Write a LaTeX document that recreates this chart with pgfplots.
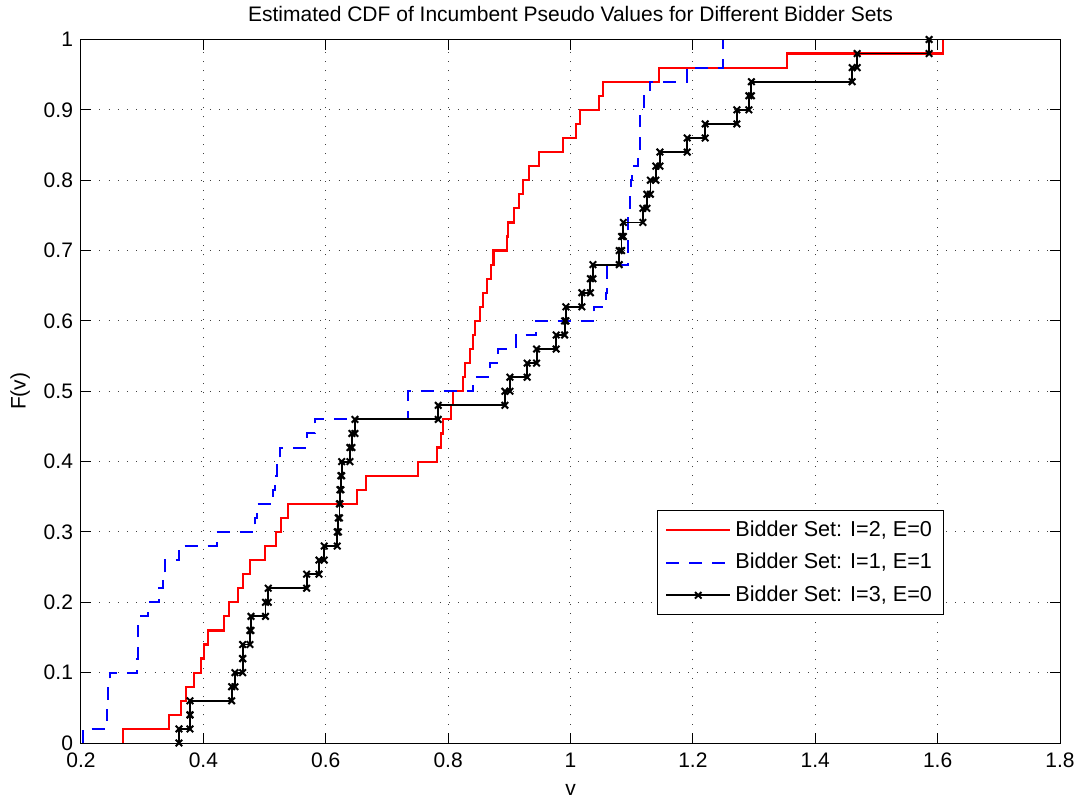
\documentclass[border=0pt]{standalone}
\usepackage{fontspec}
\setmainfont{Liberation Sans}
\usepackage{pgfplots}
\pgfplotsset{compat=1.18}
\begin{document}
\begin{tikzpicture}
\path[use as bounding box] (-40.5pt,-28pt) rectangle (499.5pt,371.5pt);
\begin{axis}[
  at={(0pt,0pt)}, anchor=south west,
  scale only axis, width=489.5pt, height=351.75pt,
  xmin=0.2, xmax=1.8, ymin=0, ymax=1,
  xtick={0.2,0.4,0.6,0.8,1,1.2,1.4,1.6,1.8},
  xticklabels={0.2,0.4,0.6,0.8,1,1.2,1.4,1.6,1.8},
  ytick={0,0.1,0.2,0.3,0.4,0.5,0.6,0.7,0.8,0.9,1},
  yticklabels={0,0.1,0.2,0.3,0.4,0.5,0.6,0.7,0.8,0.9,1},
  tick align=inside, xtick pos=both, ytick pos=both,
  xticklabel pos=lower, yticklabel pos=left,
  major tick length=5pt,
  every tick/.style={black, line width=0.5pt},
  grid=major,
  major grid style={black!75, line width=0.5pt, dash pattern=on 0.5pt off 4.1pt},
  axis line style={black, line width=0.5pt},
  font=\fontsize{10.5}{12.6}\selectfont,
  tick label style={font=\fontsize{10.5}{12.6}\selectfont},
  xticklabel style={yshift=-1.5pt},
  yticklabel style={xshift=-0.5pt},
  /pgf/number format/assume math mode=true,
  title={Estimated CDF of Incumbent Pseudo Values for Different Bidder Sets},
  title style={font=\fontsize{10.5}{12.6}\selectfont, yshift=-0.5pt},
  xlabel={v}, ylabel={F(v)},
  xlabel style={yshift=-1.5pt},
  legend style={at={(0.588,0.331)}, anchor=north west, draw=black, line width=0.5pt,
    fill=white, font=\fontsize{10.8}{13}\selectfont, inner xsep=4pt, inner ysep=3pt,
    row sep=3pt, cells={anchor=west},
    /tikz/every even column/.append style={column sep=2pt}},
  legend image code/.code={\draw[mark repeat=2,mark phase=2,#1] plot coordinates {(0pt,0pt) (16pt,0pt) (32pt,0pt)};},
]
\addplot[const plot, color=red, line width=1.1pt] coordinates {
(0.2681,0) (0.2681,0.02) (0.3443,0.04) (0.3629,0.06) (0.3716,0.08) (0.3851,0.10)
(0.3961,0.12) (0.4010,0.14) (0.4070,0.16) (0.4337,0.18) (0.4413,0.20) (0.4565,0.22)
(0.4652,0.24) (0.4761,0.26) (0.5007,0.28) (0.5186,0.30) (0.5268,0.32) (0.5377,0.34)
(0.6505,0.36) (0.6657,0.38) (0.7502,0.40) (0.7822,0.42) (0.7877,0.44) (0.7910,0.46)
(0.8041,0.48) (0.8083,0.50) (0.8247,0.52) (0.8275,0.54) (0.8356,0.56) (0.8410,0.58)
(0.8438,0.60) (0.8520,0.62) (0.8574,0.64) (0.8629,0.66) (0.8699,0.68) (0.8740,0.70)
(0.8956,0.72) (0.8982,0.74) (0.9080,0.76) (0.9162,0.78) (0.9227,0.80) (0.9325,0.82)
(0.9489,0.84) (0.9871,0.86) (1.0088,0.88) (1.0154,0.90) (1.0469,0.92) (1.0534,0.94)
(1.1444,0.96) (1.3541,0.98) (1.6090,1.00)
};
\addlegendentry{Bidder Set: I=2, E=0}
\addplot[const plot, color=blue, line width=1pt, dash pattern=on 6.5pt off 5pt] coordinates {
(0.2028,0) (0.2028,0.02) (0.2420,0.04) (0.2433,0.06) (0.2449,0.08) (0.2474,0.10)
(0.2920,0.12) (0.2925,0.14) (0.2930,0.16) (0.2936,0.18) (0.3103,0.20) (0.3275,0.22)
(0.3332,0.24) (0.3373,0.26) (0.3601,0.28) (0.4217,0.30) (0.4843,0.32) (0.4871,0.34)
(0.5142,0.36) (0.5170,0.38) (0.5198,0.40) (0.5252,0.42) (0.5688,0.44) (0.5824,0.46)
(0.7338,0.48) (0.7338,0.50) (0.8410,0.52) (0.8683,0.54) (0.8819,0.56) (0.9103,0.58)
(0.9435,0.60) (1.0387,0.62) (1.0573,0.64) (1.0590,0.66) (1.0600,0.68) (1.0933,0.70)
(1.0935,0.72) (1.0943,0.74) (1.0943,0.76) (1.0971,0.78) (1.0982,0.80) (1.1003,0.82)
(1.1106,0.84) (1.1134,0.86) (1.1134,0.88) (1.1142,0.90) (1.1204,0.92) (1.1297,0.94)
(1.1897,0.96) (1.2485,0.98) (1.2485,1.00)
};
\addlegendentry{Bidder Set: I=1, E=1}
\addplot[color=black, line width=0.9pt, mark=x, mark size=2.3pt, mark options={solid, line width=1pt}] coordinates {
(0.3601,0) (0.3601,0.02) (0.3781,0.02) (0.3781,0.04) (0.3781,0.04) (0.3781,0.06)
(0.4462,0.06) (0.4462,0.08) (0.4516,0.08) (0.4516,0.10) (0.4642,0.10) (0.4642,0.12)
(0.4642,0.12) (0.4642,0.14) (0.4761,0.14) (0.4761,0.16) (0.4778,0.16) (0.4778,0.18)
(0.5015,0.18) (0.5015,0.20) (0.5060,0.20) (0.5060,0.22) (0.5688,0.22) (0.5688,0.24)
(0.5889,0.24) (0.5889,0.26) (0.5975,0.26) (0.5975,0.28) (0.6188,0.28) (0.6188,0.30)
(0.6205,0.30) (0.6205,0.32) (0.6224,0.32) (0.6224,0.34) (0.6232,0.34) (0.6232,0.36)
(0.6248,0.36) (0.6248,0.38) (0.6260,0.38) (0.6260,0.40) (0.6395,0.40) (0.6395,0.42)
(0.6428,0.42) (0.6428,0.44) (0.6477,0.44) (0.6477,0.46) (0.7838,0.46) (0.7838,0.48)
(0.8928,0.48) (0.8928,0.50) (0.9010,0.50) (0.9010,0.52) (0.9292,0.52) (0.9292,0.54)
(0.9446,0.54) (0.9446,0.56) (0.9766,0.56) (0.9766,0.58) (0.9904,0.58) (0.9904,0.60)
(0.9925,0.60) (0.9925,0.62) (1.0186,0.62) (1.0186,0.64) (1.0325,0.64) (1.0325,0.66)
(1.0366,0.66) (1.0366,0.68) (1.0796,0.68) (1.0796,0.70) (1.0835,0.70) (1.0835,0.72)
(1.0864,0.72) (1.0864,0.74) (1.1183,0.74) (1.1183,0.76) (1.1248,0.76) (1.1248,0.78)
(1.1306,0.78) (1.1306,0.80) (1.1395,0.80) (1.1395,0.82) (1.1461,0.82) (1.1461,0.84)
(1.1907,0.84) (1.1907,0.86) (1.2201,0.86) (1.2201,0.88) (1.2719,0.88) (1.2719,0.90)
(1.2915,0.90) (1.2915,0.92) (1.2956,0.92) (1.2956,0.94) (1.4603,0.94) (1.4603,0.96)
(1.4685,0.96) (1.4685,0.98) (1.5861,0.98) (1.5861,1.00)
};
\addlegendentry{Bidder Set: I=3, E=0}
\end{axis}
\end{tikzpicture}
\end{document}
